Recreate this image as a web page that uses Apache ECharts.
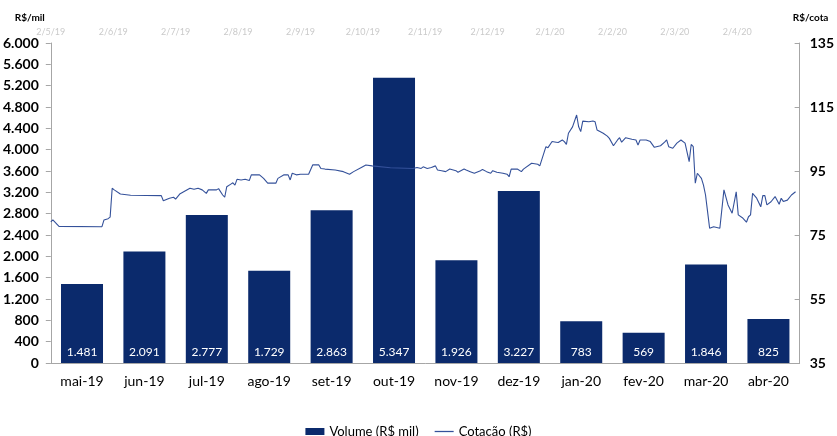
<!DOCTYPE html>
<html><head><meta charset="utf-8">
<script src="https://cdn.jsdelivr.net/npm/echarts@6/dist/echarts.min.js"></script>
<style>html,body{margin:0;padding:0;background:#fff}#c{width:837px;height:436px}</style>
</head><body><div id="c"></div>
<script>
const months = ['mai-19','jun-19','jul-19','ago-19','set-19','out-19','nov-19','dez-19','jan-20','fev-20','mar-20','abr-20'];
const volume = [1481, 2091, 2777, 1729, 2863, 5347, 1926, 3227, 783, 569, 1846, 825];
const topLabels = ['2/5/19','2/6/19','2/7/19','2/8/19','2/9/19','2/10/19','2/11/19','2/12/19','2/1/20','2/2/20','2/3/20','2/4/20',''];
const volTicks = [0,400,800,1200,1600,2000,2400,2800,3200,3600,4000,4400,4800,5200,5600,6000];
const priceTicks = [35,55,75,95,115,135];
const lineDates = [
'2019-05-02','2019-05-03','2019-05-06','2019-05-27','2019-05-28','2019-05-30','2019-05-31','2019-06-01','2019-06-02','2019-06-05',
'2019-06-10','2019-06-25','2019-06-26','2019-06-29','2019-07-01','2019-07-02','2019-07-04','2019-07-09','2019-07-11','2019-07-13',
'2019-07-15','2019-07-17','2019-07-18','2019-07-22','2019-07-23','2019-07-25','2019-07-26','2019-07-27','2019-07-29','2019-07-30',
'2019-07-31','2019-08-01','2019-08-03','2019-08-05','2019-08-07','2019-08-08','2019-08-12','2019-08-14','2019-08-16','2019-08-20',
'2019-08-21','2019-08-24','2019-08-26','2019-08-27','2019-08-28','2019-08-30','2019-09-01','2019-09-05','2019-09-07','2019-09-10',
'2019-09-11','2019-09-13','2019-09-18','2019-09-22','2019-09-25','2019-09-27','2019-10-01','2019-10-03','2019-10-06','2019-10-15',
'2019-10-26','2019-10-28','2019-10-30','2019-10-31','2019-11-02','2019-11-04','2019-11-06','2019-11-07','2019-11-09','2019-11-11',
'2019-11-13','2019-11-16','2019-11-17','2019-11-20','2019-11-21','2019-11-23','2019-11-25','2019-11-28','2019-11-29','2019-12-01',
'2019-12-03','2019-12-04','2019-12-06','2019-12-09','2019-12-11','2019-12-12','2019-12-13','2019-12-16','2019-12-18','2019-12-19',
'2019-12-23','2019-12-26','2019-12-27','2019-12-30','2019-12-31','2020-01-02','2020-01-04','2020-01-05','2020-01-07','2020-01-08',
'2020-01-09','2020-01-10','2020-01-12','2020-01-14','2020-01-15','2020-01-16','2020-01-17','2020-01-20','2020-01-22','2020-01-23',
'2020-01-24','2020-01-27','2020-01-29','2020-01-30','2020-02-01','2020-02-03','2020-02-04','2020-02-05','2020-02-07','2020-02-10',
'2020-02-12','2020-02-13','2020-02-14','2020-02-17','2020-02-19','2020-02-21','2020-02-24','2020-02-26','2020-02-27','2020-02-28',
'2020-03-01','2020-03-03','2020-03-05','2020-03-07','2020-03-09','2020-03-10','2020-03-11','2020-03-12','2020-03-13','2020-03-15',
'2020-03-16','2020-03-17','2020-03-18','2020-03-19','2020-03-21','2020-03-24','2020-03-26','2020-03-28','2020-03-30','2020-04-01',
'2020-04-02','2020-04-04','2020-04-06','2020-04-07','2020-04-08','2020-04-09','2020-04-11','2020-04-13','2020-04-14','2020-04-15',
'2020-04-16','2020-04-18','2020-04-20','2020-04-22','2020-04-23','2020-04-24','2020-04-26','2020-04-28','2020-04-30'
];
const lineValues = [
79.1,79.7,77.7,77.6,79.7,80.1,80.6,89.6,89.1,87.8,
87.4,87.3,85.7,86.5,86.8,86.2,87.8,89.6,89.3,89.6,
89.1,88.0,89.1,89.1,89.5,87.5,86.8,90.1,90.9,91.3,
90.6,92.4,92.2,92.4,92.0,93.8,93.8,92.7,91.2,91.2,
92.7,93.8,93.8,92.2,94.3,93.8,94.0,94.0,96.9,96.9,
95.8,95.6,95.3,94.8,94.0,94.8,96.2,96.9,96.6,96.0,
95.8,96.1,95.8,96.3,95.8,96.1,96.6,95.3,95.1,94.8,
95.6,95.1,94.6,95.6,95.3,94.8,94.3,95.1,95.5,94.8,
94.3,95.1,94.6,94.3,94.0,93.2,95.6,95.6,94.8,95.6,
97.4,97.1,96.6,102.6,102.3,104.2,104.0,103.9,104.7,104.2,
103.3,106.8,108.8,112.5,108.8,107.3,110.6,110.4,110.6,110.4,
107.8,106.8,105.9,105.2,102.9,104.7,105.4,104.0,105.4,104.9,
104.7,103.1,104.7,104.7,104.2,102.4,102.9,104.0,104.7,102.6,
102.1,103.7,104.7,103.7,97.9,103.3,102.6,91.2,94.3,92.7,
90.6,87.5,82.3,77.1,77.6,77.1,89.1,84.4,81.8,88.5,
81.3,80.4,79.0,80.7,81.3,88.0,86.5,83.8,87.3,87.3,
84.4,85.4,87.0,84.6,86.5,85.5,85.9,87.5,88.5
];
const lineData = lineDates.map((d, i) => [d, lineValues[i]]);
const fmt = v => String(v).replace(/\B(?=(\d{3})+(?!\d))/g, '.');
const FONT = 'Lato, "Open Sans", sans-serif';
const AX = '#a6a6a6';
const LINE = '#34519a';
const chart = echarts.init(document.getElementById('c'));
chart.setOption({
  animation: false,
  textStyle: {fontFamily: FONT},
  grid: {left: 47, right: 35, top: 43, bottom: 73},
  legend: {
    top: 420, left: 'center', itemGap: 16, itemWidth: 19, itemHeight: 7,
    symbolKeepAspect: true,
    textStyle: {fontSize: 13, color: '#000', fontFamily: FONT},
    data: [
      {name: 'Volume (R$ mil)', icon: 'rect'},
      {name: 'Cotação (R$)', icon: 'path://M0,0H30V2H0Z'}
    ]
  },
  xAxis: [
    {type: 'category', data: months, position: 'bottom',
     axisLine: {lineStyle: {color: AX}}, axisTick: {show: false},
     axisLabel: {color: '#000', fontSize: 14, margin: 11}},
    {type: 'time', show: false, position: 'top', min: '2019-05-02', max: '2020-05-02'},
    {type: 'category', data: topLabels, position: 'top', boundaryGap: false,
     axisLine: {show: false}, axisTick: {show: false},
     axisLabel: {color: '#cacaca', fontSize: 9, margin: 6, interval: 0}}
  ],
  yAxis: [
    {type: 'value', min: 0, max: 6000, interval: 400, position: 'left',
     name: 'R$/mil', nameLocation: 'end', nameGap: 20,
     nameTextStyle: {fontSize: 10, fontWeight: 'bold', color: '#000', padding: [0, 42, 0, 0]},
     axisLine: {show: true, lineStyle: {color: AX}},
     axisTick: {show: true, length: 5, lineStyle: {color: AX}},
     splitLine: {show: false},
     axisLabel: {color: '#000', fontSize: 14, fontWeight: 'bold', margin: 12, formatter: fmt}},
    {type: 'value', min: 35, max: 135, position: 'right',
     name: 'R$/cota', nameLocation: 'end', nameGap: 20,
     nameTextStyle: {fontSize: 10, fontWeight: 'bold', color: '#000', padding: [0, 0, 0, 22]},
     axisLine: {show: true, lineStyle: {color: AX}},
     axisTick: {show: true, inside: true, length: 5, customValues: priceTicks, lineStyle: {color: AX}},
     splitLine: {show: false},
     axisLabel: {color: '#000', fontSize: 14, fontWeight: 'bold', margin: 10, customValues: priceTicks}}
  ],
  series: [
    {name: 'Volume (R$ mil)', type: 'bar', data: volume, xAxisIndex: 0, yAxisIndex: 0,
     barWidth: 42, itemStyle: {color: '#0b2a6c'},
     label: {show: true, position: 'insideBottom', distance: 5, color: '#fff', fontSize: 12, formatter: p => fmt(p.value)}},
    {name: 'Cotação (R$)', type: 'line', data: lineData, xAxisIndex: 1, yAxisIndex: 1,
     symbol: 'none', showSymbol: false, lineStyle: {color: LINE, width: 1.1}, itemStyle: {color: LINE}, z: 3}
  ]
});
</script></body></html>
